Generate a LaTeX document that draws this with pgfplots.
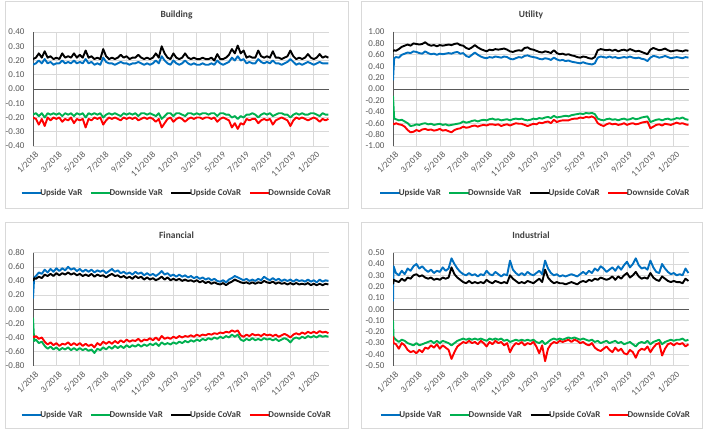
\documentclass[border=0pt]{standalone}
\usepackage{fontspec}
\setmainfont{Carlito}
\usepackage{pgfplots}
\usepackage{pgfplotstable}
\pgfplotsset{compat=1.18}
\definecolor{cBlue}{HTML}{0070C0}
\definecolor{cGreen}{HTML}{00B050}
\definecolor{cRed}{HTML}{FF0000}
\definecolor{cGrid}{HTML}{D9D9D9}
\definecolor{cAxis}{HTML}{595959}
\definecolor{cText}{HTML}{595959}
\definecolor{cTitle}{HTML}{404040}
\definecolor{cFrame}{HTML}{D9D9D9}
\newcommand\ticksz{\fontsize{9}{10.8}\selectfont}
\newcommand\legsz{\fontsize{9}{10.5}\selectfont\bfseries}
\newcommand\titsz{\fontsize{9.5}{11}\selectfont\bfseries}

\pgfplotstableread{
x uv dv uc dc
0 0.17 -0.18 0.21 -0.20
0.25 0.18 -0.17 0.22 -0.21
0.5 0.20 -0.19 0.25 -0.25
0.75 0.18 -0.17 0.22 -0.21
1 0.21 -0.20 0.265 -0.26
1.25 0.18 -0.17 0.22 -0.20
1.5 0.19 -0.18 0.23 -0.22
1.75 0.17 -0.17 0.21 -0.20
2 0.18 -0.18 0.22 -0.21
2.25 0.18 -0.17 0.21 -0.20
2.5 0.20 -0.19 0.25 -0.23
2.75 0.18 -0.17 0.22 -0.21
3 0.19 -0.18 0.23 -0.22
3.25 0.18 -0.17 0.22 -0.20
3.5 0.20 -0.19 0.25 -0.24
3.75 0.18 -0.17 0.22 -0.21
4 0.19 -0.18 0.24 -0.22
4.25 0.18 -0.17 0.22 -0.21
4.5 0.21 -0.20 0.27 -0.27
4.75 0.18 -0.17 0.22 -0.21
5 0.19 -0.18 0.23 -0.22
5.25 0.17 -0.17 0.21 -0.20
5.5 0.18 -0.18 0.22 -0.21
5.75 0.17 -0.17 0.21 -0.20
6 0.22 -0.20 0.28 -0.25
6.25 0.19 -0.18 0.23 -0.22
6.5 0.18 -0.17 0.21 -0.20
6.75 0.18 -0.18 0.22 -0.21
7 0.17 -0.17 0.21 -0.20
7.25 0.18 -0.18 0.22 -0.21
7.5 0.19 -0.19 0.24 -0.22
7.75 0.18 -0.17 0.22 -0.20
8 0.18 -0.18 0.23 -0.21
8.25 0.17 -0.17 0.21 -0.20
8.5 0.18 -0.18 0.22 -0.21
8.75 0.18 -0.17 0.22 -0.20
9 0.19 -0.19 0.24 -0.22
9.25 0.18 -0.17 0.22 -0.21
9.5 0.17 -0.17 0.21 -0.20
9.75 0.18 -0.18 0.22 -0.21
10 0.17 -0.17 0.21 -0.20
10.25 0.18 -0.18 0.22 -0.21
10.5 0.20 -0.19 0.25 -0.23
10.75 0.18 -0.17 0.22 -0.21
11 0.23 -0.21 0.30 -0.27
11.25 0.20 -0.19 0.25 -0.24
11.5 0.18 -0.17 0.22 -0.21
11.75 0.17 -0.17 0.21 -0.20
12 0.20 -0.19 0.25 -0.23
12.25 0.18 -0.17 0.22 -0.21
12.5 0.17 -0.17 0.21 -0.20
12.75 0.18 -0.18 0.22 -0.21
13 0.20 -0.19 0.25 -0.23
13.25 0.18 -0.17 0.22 -0.21
13.5 0.17 -0.17 0.21 -0.20
13.75 0.18 -0.18 0.22 -0.21
14 0.17 -0.17 0.21 -0.20
14.25 0.17 -0.18 0.21 -0.20
14.5 0.18 -0.17 0.22 -0.21
14.75 0.17 -0.17 0.21 -0.20
15 0.17 -0.18 0.21 -0.20
15.25 0.18 -0.17 0.22 -0.21
15.5 0.17 -0.17 0.20 -0.20
15.75 0.20 -0.19 0.245 -0.23
16 0.18 -0.17 0.21 -0.21
16.25 0.17 -0.17 0.21 -0.20
16.5 0.18 -0.18 0.22 -0.21
16.75 0.19 -0.18 0.24 -0.22
17 0.22 -0.20 0.28 -0.27
17.25 0.20 -0.19 0.25 -0.24
17.5 0.23 -0.21 0.305 -0.28
17.75 0.20 -0.19 0.25 -0.24
18 0.21 -0.20 0.27 -0.25
18.25 0.18 -0.18 0.22 -0.21
18.5 0.19 -0.18 0.23 -0.22
18.75 0.18 -0.17 0.22 -0.21
19 0.18 -0.18 0.22 -0.21
19.25 0.21 -0.20 0.27 -0.24
19.5 0.19 -0.18 0.23 -0.22
19.75 0.18 -0.17 0.22 -0.21
20 0.19 -0.18 0.23 -0.22
20.25 0.18 -0.17 0.22 -0.21
20.5 0.20 -0.19 0.265 -0.25
20.75 0.18 -0.18 0.22 -0.22
21 0.18 -0.17 0.22 -0.21
21.25 0.17 -0.17 0.21 -0.20
21.5 0.18 -0.18 0.22 -0.21
21.75 0.19 -0.18 0.23 -0.22
22 0.21 -0.20 0.27 -0.26
22.25 0.19 -0.18 0.23 -0.22
22.5 0.17 -0.17 0.21 -0.20
22.75 0.18 -0.18 0.22 -0.21
23 0.17 -0.17 0.21 -0.20
23.25 0.18 -0.18 0.22 -0.21
23.5 0.19 -0.18 0.245 -0.22
23.75 0.18 -0.17 0.22 -0.21
24 0.17 -0.17 0.21 -0.20
24.25 0.18 -0.18 0.22 -0.21
24.5 0.19 -0.19 0.245 -0.23
24.75 0.18 -0.17 0.22 -0.21
25 0.18 -0.18 0.23 -0.22
25.25 0.18 -0.18 0.22 -0.21
}\tbuilding

\pgfplotstableread{
x uv dv uc dc
0 0.15 -0.12 0.66 -0.60
0.1 0.54 -0.52 0.68 -0.62
0.25 0.56 -0.53 0.67 -0.60
0.5 0.55 -0.55 0.70 -0.62
0.75 0.60 -0.54 0.74 -0.63
1 0.62 -0.57 0.76 -0.66
1.25 0.64 -0.60 0.78 -0.72
1.5 0.63 -0.65 0.76 -0.76
1.75 0.66 -0.64 0.80 -0.75
2 0.65 -0.62 0.79 -0.72
2.25 0.63 -0.63 0.78 -0.74
2.5 0.62 -0.61 0.79 -0.71
2.75 0.66 -0.60 0.82 -0.70
3 0.63 -0.62 0.78 -0.72
3.25 0.61 -0.61 0.76 -0.71
3.5 0.62 -0.63 0.77 -0.73
3.75 0.60 -0.62 0.75 -0.72
4 0.62 -0.61 0.77 -0.70
4.25 0.61 -0.63 0.76 -0.73
4.5 0.62 -0.62 0.77 -0.72
4.75 0.63 -0.64 0.78 -0.74
5 0.62 -0.63 0.77 -0.76
5.25 0.64 -0.62 0.79 -0.72
5.5 0.65 -0.61 0.80 -0.70
5.75 0.62 -0.60 0.77 -0.69
6 0.63 -0.57 0.76 -0.66
6.25 0.58 -0.59 0.72 -0.68
6.5 0.56 -0.58 0.70 -0.67
6.75 0.60 -0.56 0.73 -0.65
7 0.64 -0.55 0.77 -0.64
7.25 0.60 -0.57 0.73 -0.66
7.5 0.57 -0.55 0.70 -0.64
7.75 0.55 -0.54 0.68 -0.63
8 0.54 -0.55 0.66 -0.64
8.25 0.56 -0.53 0.69 -0.62
8.5 0.55 -0.52 0.68 -0.62
8.75 0.57 -0.54 0.70 -0.63
9 0.56 -0.53 0.69 -0.62
9.25 0.55 -0.55 0.70 -0.65
9.5 0.57 -0.54 0.71 -0.63
9.75 0.56 -0.53 0.69 -0.62
10 0.53 -0.55 0.66 -0.64
10.25 0.52 -0.53 0.65 -0.62
10.5 0.54 -0.52 0.67 -0.60
10.75 0.56 -0.53 0.68 -0.61
11 0.55 -0.52 0.67 -0.61
11.25 0.58 -0.54 0.72 -0.63
11.5 0.59 -0.55 0.73 -0.65
11.75 0.57 -0.54 0.70 -0.63
12 0.56 -0.52 0.69 -0.61
12.25 0.55 -0.53 0.67 -0.62
12.5 0.53 -0.51 0.65 -0.59
12.75 0.52 -0.52 0.64 -0.60
13 0.54 -0.50 0.66 -0.58
13.25 0.53 -0.49 0.65 -0.57
13.5 0.51 -0.51 0.63 -0.60
13.75 0.55 -0.47 0.68 -0.54
14 0.52 -0.50 0.63 -0.58
14.25 0.50 -0.49 0.61 -0.56
14.5 0.51 -0.48 0.62 -0.55
14.75 0.49 -0.47 0.60 -0.55
15 0.50 -0.48 0.61 -0.55
15.25 0.48 -0.46 0.59 -0.53
15.5 0.47 -0.45 0.58 -0.52
15.75 0.46 -0.44 0.56 -0.52
16 0.45 -0.43 0.55 -0.50
16.25 0.47 -0.44 0.57 -0.51
16.5 0.45 -0.42 0.56 -0.49
16.75 0.44 -0.43 0.54 -0.50
17 0.43 -0.42 0.53 -0.48
17.25 0.45 -0.44 0.56 -0.51
17.5 0.55 -0.52 0.68 -0.60
17.75 0.57 -0.54 0.70 -0.63
18 0.56 -0.55 0.69 -0.65
18.25 0.55 -0.53 0.68 -0.62
18.5 0.57 -0.52 0.69 -0.60
18.75 0.55 -0.54 0.67 -0.62
19 0.56 -0.53 0.69 -0.61
19.25 0.54 -0.55 0.66 -0.63
19.5 0.55 -0.53 0.68 -0.62
19.75 0.56 -0.52 0.69 -0.60
20 0.55 -0.54 0.67 -0.63
20.25 0.57 -0.53 0.70 -0.61
20.5 0.55 -0.51 0.68 -0.60
20.75 0.54 -0.53 0.66 -0.62
21 0.55 -0.52 0.67 -0.61
21.25 0.53 -0.50 0.65 -0.59
21.5 0.52 -0.49 0.63 -0.58
21.75 0.49 -0.48 0.61 -0.57
22 0.55 -0.58 0.69 -0.69
22.25 0.58 -0.56 0.72 -0.66
22.5 0.57 -0.54 0.70 -0.63
22.75 0.55 -0.53 0.68 -0.62
23 0.56 -0.55 0.69 -0.64
23.25 0.58 -0.53 0.71 -0.61
23.5 0.56 -0.52 0.68 -0.62
23.75 0.54 -0.54 0.66 -0.63
24 0.55 -0.53 0.67 -0.61
24.25 0.56 -0.51 0.68 -0.59
24.5 0.55 -0.52 0.67 -0.61
24.75 0.54 -0.50 0.66 -0.60
25 0.56 -0.53 0.68 -0.62
25.25 0.55 -0.54 0.67 -0.63
}\tutility

\pgfplotstableread{
x uv dv uc dc
0 0.15 -0.12 0.40 -0.38
0.1 0.45 -0.45 0.44 -0.40
0.25 0.47 -0.43 0.43 -0.38
0.5 0.52 -0.48 0.46 -0.42
0.75 0.50 -0.46 0.44 -0.40
1 0.56 -0.52 0.49 -0.46
1.25 0.52 -0.56 0.47 -0.50
1.5 0.57 -0.53 0.50 -0.47
1.75 0.53 -0.57 0.47 -0.51
2 0.58 -0.54 0.51 -0.48
2.25 0.54 -0.58 0.48 -0.52
2.5 0.58 -0.55 0.51 -0.49
2.75 0.55 -0.57 0.49 -0.50
3 0.60 -0.54 0.52 -0.47
3.25 0.56 -0.58 0.49 -0.51
3.5 0.58 -0.55 0.51 -0.48
3.75 0.54 -0.58 0.48 -0.51
4 0.57 -0.55 0.50 -0.48
4.25 0.53 -0.58 0.47 -0.52
4.5 0.56 -0.56 0.49 -0.49
4.75 0.53 -0.59 0.47 -0.52
5 0.56 -0.57 0.50 -0.50
5.25 0.52 -0.62 0.46 -0.54
5.5 0.55 -0.56 0.49 -0.48
5.75 0.53 -0.58 0.47 -0.51
6 0.55 -0.54 0.48 -0.46
6.25 0.51 -0.57 0.45 -0.49
6.5 0.54 -0.53 0.48 -0.46
6.75 0.57 -0.56 0.50 -0.49
7 0.53 -0.52 0.47 -0.45
7.25 0.55 -0.55 0.48 -0.48
7.5 0.51 -0.52 0.45 -0.44
7.75 0.53 -0.55 0.47 -0.47
8 0.50 -0.51 0.44 -0.43
8.25 0.52 -0.54 0.46 -0.46
8.5 0.49 -0.51 0.43 -0.44
8.75 0.53 -0.53 0.47 -0.45
9 0.50 -0.50 0.44 -0.42
9.25 0.52 -0.53 0.46 -0.46
9.5 0.48 -0.50 0.42 -0.43
9.75 0.51 -0.52 0.45 -0.44
10 0.48 -0.49 0.42 -0.41
10.25 0.50 -0.51 0.44 -0.44
10.5 0.47 -0.48 0.41 -0.40
10.75 0.50 -0.52 0.43 -0.44
11 0.54 -0.47 0.46 -0.38
11.25 0.49 -0.50 0.42 -0.42
11.5 0.51 -0.48 0.45 -0.40
11.75 0.47 -0.50 0.41 -0.42
12 0.49 -0.47 0.43 -0.39
12.25 0.46 -0.49 0.41 -0.41
12.5 0.49 -0.46 0.43 -0.38
12.75 0.46 -0.48 0.40 -0.40
13 0.48 -0.45 0.42 -0.38
13.25 0.45 -0.47 0.40 -0.39
13.5 0.47 -0.44 0.41 -0.37
13.75 0.44 -0.46 0.39 -0.39
14 0.46 -0.43 0.41 -0.36
14.25 0.43 -0.45 0.38 -0.38
14.5 0.45 -0.42 0.40 -0.36
14.75 0.42 -0.44 0.37 -0.37
15 0.44 -0.41 0.39 -0.35
15.25 0.41 -0.43 0.36 -0.36
15.5 0.43 -0.40 0.38 -0.34
15.75 0.40 -0.42 0.36 -0.35
16 0.39 -0.39 0.35 -0.33
16.25 0.41 -0.41 0.37 -0.34
16.5 0.38 -0.38 0.34 -0.32
16.75 0.42 -0.40 0.37 -0.33
17 0.44 -0.36 0.39 -0.30
17.25 0.47 -0.39 0.42 -0.32
17.5 0.45 -0.36 0.40 -0.30
17.75 0.43 -0.43 0.38 -0.37
18 0.41 -0.45 0.37 -0.39
18.25 0.43 -0.42 0.38 -0.36
18.5 0.40 -0.44 0.36 -0.38
18.75 0.42 -0.41 0.38 -0.35
19 0.40 -0.44 0.36 -0.37
19.25 0.43 -0.42 0.38 -0.36
19.5 0.41 -0.44 0.37 -0.38
19.75 0.46 -0.41 0.40 -0.35
20 0.43 -0.43 0.38 -0.37
20.25 0.41 -0.42 0.37 -0.36
20.5 0.44 -0.44 0.39 -0.38
20.75 0.41 -0.42 0.36 -0.36
21 0.43 -0.45 0.38 -0.39
21.25 0.40 -0.43 0.36 -0.37
21.5 0.42 -0.41 0.37 -0.35
21.75 0.40 -0.43 0.35 -0.37
22 0.42 -0.47 0.37 -0.40
22.25 0.39 -0.42 0.35 -0.36
22.5 0.42 -0.40 0.37 -0.34
22.75 0.40 -0.42 0.35 -0.36
23 0.41 -0.39 0.36 -0.33
23.25 0.39 -0.41 0.35 -0.35
23.5 0.42 -0.38 0.37 -0.32
23.75 0.39 -0.40 0.34 -0.34
24 0.41 -0.38 0.36 -0.32
24.25 0.38 -0.40 0.34 -0.34
24.5 0.42 -0.37 0.36 -0.31
24.75 0.39 -0.39 0.34 -0.33
25 0.41 -0.38 0.36 -0.32
25.25 0.40 -0.39 0.35 -0.34
}\tfinancial

\pgfplotstableread{
x uv dv uc dc
0 0.07 -0.10 0.22 -0.24
0.05 0.38 -0.25 0.26 -0.30
0.25 0.32 -0.27 0.25 -0.31
0.5 0.30 -0.29 0.24 -0.35
0.75 0.34 -0.27 0.27 -0.30
1 0.31 -0.28 0.25 -0.32
1.25 0.36 -0.30 0.28 -0.36
1.5 0.34 -0.31 0.27 -0.38
1.75 0.38 -0.32 0.30 -0.37
2 0.40 -0.30 0.31 -0.39
2.25 0.36 -0.32 0.29 -0.36
2.5 0.38 -0.31 0.30 -0.38
2.75 0.35 -0.30 0.28 -0.34
3 0.33 -0.29 0.27 -0.35
3.25 0.35 -0.28 0.28 -0.32
3.5 0.32 -0.30 0.26 -0.34
3.75 0.34 -0.28 0.27 -0.31
4 0.33 -0.30 0.26 -0.35
4.25 0.37 -0.28 0.28 -0.32
4.5 0.34 -0.29 0.27 -0.34
4.75 0.36 -0.30 0.28 -0.36
5 0.45 -0.32 0.37 -0.44
5.25 0.40 -0.30 0.31 -0.38
5.5 0.36 -0.28 0.28 -0.33
5.75 0.33 -0.27 0.26 -0.31
6 0.31 -0.26 0.24 -0.29
6.25 0.30 -0.27 0.23 -0.30
6.5 0.32 -0.26 0.25 -0.28
6.75 0.30 -0.27 0.23 -0.30
7 0.31 -0.26 0.24 -0.29
7.25 0.29 -0.27 0.23 -0.31
7.5 0.31 -0.26 0.24 -0.28
7.75 0.30 -0.27 0.23 -0.30
8 0.34 -0.28 0.26 -0.33
8.25 0.31 -0.26 0.24 -0.29
8.5 0.30 -0.27 0.23 -0.31
8.75 0.33 -0.26 0.25 -0.28
9 0.31 -0.27 0.24 -0.30
9.25 0.29 -0.26 0.23 -0.29
9.5 0.31 -0.28 0.24 -0.32
9.75 0.30 -0.27 0.23 -0.30
10 0.43 -0.29 0.30 -0.38
10.25 0.35 -0.28 0.27 -0.33
10.5 0.32 -0.27 0.25 -0.30
10.75 0.30 -0.28 0.23 -0.31
11 0.32 -0.27 0.24 -0.29
11.25 0.30 -0.28 0.23 -0.32
11.5 0.33 -0.27 0.25 -0.30
11.75 0.31 -0.28 0.24 -0.31
12 0.30 -0.27 0.23 -0.29
12.25 0.32 -0.29 0.25 -0.33
12.5 0.34 -0.30 0.27 -0.39
12.75 0.31 -0.28 0.24 -0.32
13 0.43 -0.31 0.35 -0.46
13.25 0.36 -0.29 0.28 -0.35
13.5 0.32 -0.27 0.25 -0.31
13.75 0.30 -0.26 0.23 -0.29
14 0.31 -0.27 0.24 -0.30
14.25 0.29 -0.26 0.23 -0.28
14.5 0.30 -0.27 0.23 -0.29
14.75 0.29 -0.26 0.22 -0.28
15 0.30 -0.25 0.23 -0.27
15.25 0.31 -0.26 0.24 -0.29
15.5 0.30 -0.25 0.23 -0.27
15.75 0.29 -0.26 0.22 -0.28
16 0.31 -0.27 0.24 -0.30
16.25 0.33 -0.26 0.25 -0.29
16.5 0.31 -0.27 0.24 -0.31
16.75 0.34 -0.28 0.26 -0.32
17 0.32 -0.27 0.25 -0.30
17.25 0.36 -0.29 0.27 -0.34
17.5 0.34 -0.28 0.26 -0.36
17.75 0.38 -0.30 0.28 -0.37
18 0.36 -0.29 0.27 -0.35
18.25 0.33 -0.28 0.26 -0.33
18.5 0.35 -0.30 0.27 -0.36
18.75 0.37 -0.29 0.29 -0.38
19 0.34 -0.28 0.26 -0.34
19.25 0.38 -0.30 0.29 -0.37
19.5 0.35 -0.29 0.27 -0.35
19.75 0.39 -0.31 0.30 -0.39
20 0.42 -0.30 0.32 -0.40
20.25 0.37 -0.29 0.28 -0.36
20.5 0.40 -0.31 0.30 -0.38
20.75 0.45 -0.33 0.33 -0.43
21 0.39 -0.30 0.29 -0.37
21.25 0.36 -0.29 0.27 -0.35
21.5 0.37 -0.30 0.28 -0.36
21.75 0.35 -0.28 0.27 -0.33
22 0.43 -0.31 0.32 -0.38
22.25 0.37 -0.29 0.28 -0.34
22.5 0.33 -0.28 0.26 -0.31
22.75 0.32 -0.27 0.25 -0.30
23 0.40 -0.31 0.29 -0.41
23.25 0.36 -0.29 0.27 -0.35
23.5 0.33 -0.28 0.25 -0.31
23.75 0.31 -0.27 0.24 -0.30
24 0.32 -0.28 0.25 -0.32
24.25 0.30 -0.27 0.24 -0.30
24.5 0.31 -0.27 0.24 -0.31
24.75 0.30 -0.26 0.23 -0.30
25 0.36 -0.28 0.27 -0.33
25.25 0.32 -0.27 0.25 -0.31
}\tindustrial

\pgfplotsset{
  panel/.style={
    scale only axis, width=296bp, anchor=south west,
    xmin=0, xmax=25.3, enlargelimits=false,
    axis x line=bottom, axis y line=left,
    x axis line style={draw=none},
    y axis line style={draw=cAxis, line width=0.75bp, -},
    tick style={draw=none},
    xmajorgrids, ymajorgrids,
    grid style={draw=cGrid, line width=0.6bp},
    xtick={0,2,4,6,8,10,12,14,16,18,20,22,24},
    xticklabels={1/2018,3/2018,5/2018,7/2018,9/2018,11/2018,1/2019,3/2019,5/2019,7/2019,9/2019,11/2019,1/2020},
    xticklabel style={rotate=45, anchor=north east, font=\ticksz, text=cText, inner sep=0.5bp, yshift=-2.5bp},
    yticklabel style={font=\ticksz, text=cText, xshift=-3bp,
      /pgf/number format/fixed, /pgf/number format/fixed zerofill, /pgf/number format/precision=2},
    /pgf/number format/assume math mode=true,
    legend columns=4,
    legend style={anchor=center, draw=none, fill=none, font=\legsz, text=cTitle,
      inner sep=0pt, nodes={inner xsep=0.5bp, inner ysep=1bp},
      /tikz/every odd column/.append style={column sep=-3bp},
      /tikz/every even column/.append style={column sep=7bp}},
    legend cell align=left,
    legend image code/.code={\draw[##1, line width=2.2bp] (0bp,0bp) -- (20bp,0bp);},
  },
  ser/.style={line width=1.9bp, line join=round, no markers},
}
\newcommand\zeroline{%
  \draw[cAxis, line width=0.75bp] (rel axis cs:0,0.5) -- (rel axis cs:1,0.5);
  \pgfplotsinvokeforeach{0,2,4,6,8,10,12,14,16,18,20,22,24}{\draw[cAxis, line width=0.75bp] (axis cs:##1,0) ++(0,0.5bp) -- ++(0,-3.5bp);}%
}
\newcommand\leg{\legend{\textbf{Upside VaR},\textbf{Downside VaR},\textbf{Upside CoVaR},\textbf{Downside CoVaR}}}

\begin{document}
\begin{tikzpicture}
\fill[white] (0,0) rectangle (708bp,430bp);
\useasboundingbox (0,0) rectangle (708bp,430bp);
\draw[cFrame, line width=0.75bp] (5bp,222bp) rectangle (348bp,429bp);
\draw[cFrame, line width=0.75bp] (361bp,222bp) rectangle (702bp,429bp);
\draw[cFrame, line width=0.75bp] (5bp,2bp) rectangle (348bp,208bp);
\draw[cFrame, line width=0.75bp] (361bp,2bp) rectangle (702bp,208bp);
\node[font=\titsz, text=cTitle] at (176.5bp,415bp) {Building};
\node[font=\titsz, text=cTitle] at (531bp,415bp) {Utility};
\node[font=\titsz, text=cTitle] at (176.5bp,195bp) {Financial};
\node[font=\titsz, text=cTitle] at (531bp,195bp) {Industrial};

\begin{axis}[panel, at={(33bp,284bp)}, height=114bp,
  ymin=-0.4, ymax=0.4, ytick={-0.4,-0.3,-0.2,-0.1,0,0.1,0.2,0.3,0.4},
  legend style={at={(0.483,-0.412)}}]
\zeroline
\addplot[ser, cBlue] table[x=x,y=uv]{\tbuilding};
\addplot[ser, cGreen] table[x=x,y=dv]{\tbuilding};
\addplot[ser, black] table[x=x,y=uc]{\tbuilding};
\addplot[ser, cRed] table[x=x,y=dc]{\tbuilding};
\leg
\end{axis}

\begin{axis}[panel, at={(393bp,284bp)}, height=114bp,
  ymin=-1, ymax=1, ytick={-1,-0.8,-0.6,-0.4,-0.2,0,0.2,0.4,0.6,0.8,1},
  legend style={at={(0.478,-0.412)}}]
\zeroline
\addplot[ser, cBlue] table[x=x,y=uv]{\tutility};
\addplot[ser, cGreen] table[x=x,y=dv]{\tutility};
\addplot[ser, black] table[x=x,y=uc]{\tutility};
\addplot[ser, cRed] table[x=x,y=dc]{\tutility};
\leg
\end{axis}

\begin{axis}[panel, at={(33bp,64.3bp)}, height=113bp,
  ymin=-0.8, ymax=0.8, ytick={-0.8,-0.6,-0.4,-0.2,0,0.2,0.4,0.6,0.8},
  legend style={at={(0.483,-0.434)}}]
\zeroline
\addplot[ser, cBlue] table[x=x,y=uv]{\tfinancial};
\addplot[ser, cGreen] table[x=x,y=dv]{\tfinancial};
\addplot[ser, black] table[x=x,y=uc]{\tfinancial};
\addplot[ser, cRed] table[x=x,y=dc]{\tfinancial};
\leg
\end{axis}

\begin{axis}[panel, at={(393bp,64.3bp)}, height=113bp,
  ymin=-0.5, ymax=0.5, ytick={-0.5,-0.4,-0.3,-0.2,-0.1,0,0.1,0.2,0.3,0.4,0.5},
  legend style={at={(0.48,-0.434)}}]
\zeroline
\addplot[ser, cBlue] table[x=x,y=uv]{\tindustrial};
\addplot[ser, cGreen] table[x=x,y=dv]{\tindustrial};
\addplot[ser, black] table[x=x,y=uc]{\tindustrial};
\addplot[ser, cRed] table[x=x,y=dc]{\tindustrial};
\leg
\end{axis}
\end{tikzpicture}
\end{document}
